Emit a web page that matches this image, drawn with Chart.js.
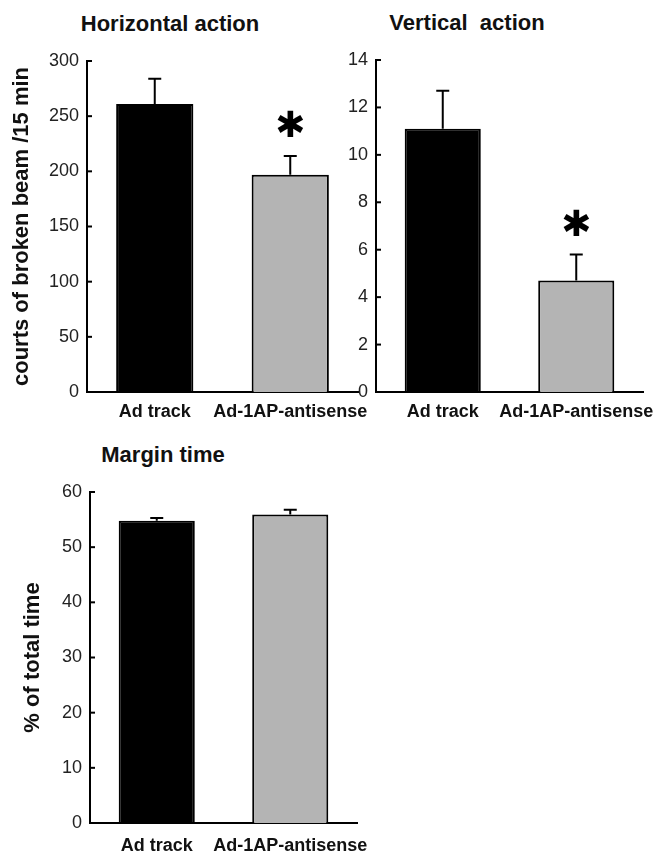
<!DOCTYPE html>
<html>
<head>
<meta charset="utf-8">
<script src="https://cdn.jsdelivr.net/npm/chart.js@4/dist/chart.umd.min.js"></script>
<style>
  body { margin: 0; background: #fff; width: 656px; height: 853px; position: relative; overflow: hidden; }
  .box { position: absolute; }
  .ttl { position: absolute; transform: translate(-50%, -50%); font: bold 22px "Liberation Sans", Arial, sans-serif; color: #111; white-space: pre; }
</style>
</head>
<body>
<div class="ttl" style="left:170px; top:24px;">Horizontal action</div>
<div class="ttl" style="left:467px; top:23px;">Vertical  action</div>
<div class="ttl" style="left:163px; top:455px;">Margin time</div>

<div class="box" style="left:0; top:0; width:375px; height:430px;"><canvas id="horiz"></canvas></div>
<div class="box" style="left:330px; top:0; width:326px; height:430px;"><canvas id="vert"></canvas></div>
<div class="box" style="left:0; top:430px; width:380px; height:423px;"><canvas id="margin"></canvas></div>

<script>
// Data
var groups = ['Ad track', 'Ad-1AP-antisense'];
var barColors = ['#000000', '#b4b4b4'];

var horizValues = [261, 197];
var horizErrors = [23, 17];
var horizSig = [false, true];

var vertValues = [11.1, 4.7];
var vertErrors = [1.6, 1.1];
var vertSig = [false, true];

var marginValues = [54.8, 55.9];
var marginErrors = [0.5, 0.9];
var marginSig = [false, false];

var fontFamily = '"Liberation Sans", Arial, sans-serif';

// Error bars, asterisks and inward y tick marks
var errorBars = {
    id: 'errorBars',
    afterDatasetsDraw: function(chart, args, opts) {
        var ctx = chart.ctx;
        var yScale = chart.scales.y;
        var meta = chart.getDatasetMeta(0);
        var ds = chart.data.datasets[0];
        ctx.save();
        ctx.strokeStyle = '#000';
        ctx.lineWidth = 2;

        // tick marks pointing into the plot
        yScale.ticks.forEach(function(t) {
            var py = yScale.getPixelForValue(t.value);
            ctx.beginPath();
            ctx.moveTo(chart.chartArea.left, py);
            ctx.lineTo(chart.chartArea.left + 5, py);
            ctx.stroke();
        });

        meta.data.forEach(function(bar, i) {
            var v = ds.data[i];
            var top = yScale.getPixelForValue(v + opts.errors[i]);
            var base = yScale.getPixelForValue(v);
            ctx.beginPath();
            ctx.moveTo(bar.x, base);
            ctx.lineTo(bar.x, top);
            ctx.moveTo(bar.x - 6.5, top);
            ctx.lineTo(bar.x + 6.5, top);
            ctx.stroke();
            if (opts.sig[i]) {
                ctx.fillStyle = '#000';
                ctx.font = '36px "DejaVu Sans"';
                ctx.textAlign = 'center';
                ctx.textBaseline = 'middle';
                ctx.fillText('\u2731', bar.x, top - 28);
            }
        });
        ctx.restore();
    }
};

function makeChart(id, values, errors, sig, max, step, yTitle, o) {
    var ctx = document.getElementById(id);
    return new Chart(ctx, {
        type: 'bar',
        data: {
            labels: groups,
            datasets: [{
                data: values,
                backgroundColor: barColors,
                borderColor: '#000',
                borderWidth: 2,
                borderSkipped: 'bottom',
                barPercentage: 0.57,
                categoryPercentage: 1
            }]
        },
        options: {
            responsive: true,
            maintainAspectRatio: false,
            animation: false,
            layout: { padding: { left: 0, top: o.top, right: o.right, bottom: 0 } },
            plugins: {
                legend: { display: false },
                tooltip: { enabled: false },
                errorBars: { errors: errors, sig: sig }
            },
            scales: {
                x: {
                    grid: { display: false },
                    border: { display: true, color: '#000', width: 2 },
                    ticks: {
                        color: '#111', padding: o.xpad, maxRotation: 0, minRotation: 0, autoSkip: false,
                        font: { family: fontFamily, size: 18, weight: 'bold' }
                    },
                    afterFit: function(s) {
                        s.height = o.xh;
                        s.paddingLeft = 0;
                        s.paddingRight = 0;
                    }
                },
                y: {
                    min: 0,
                    max: max,
                    ticks: { stepSize: step, color: '#222', padding: 8, font: { family: fontFamily, size: 18 } },
                    grid: { display: false, drawTicks: false },
                    border: { display: true, color: '#000', width: 2 },
                    title: {
                        display: !!yTitle,
                        text: yTitle,
                        color: '#111',
                        padding: { top: o.tpad, bottom: 0 },
                        font: { family: fontFamily, size: 22, weight: 'bold' }
                    },
                    afterFit: function(s) { s.width = o.yw; }
                }
            }
        },
        plugins: [errorBars]
    });
}

makeChart('horiz', horizValues, horizErrors, horizSig, 300, 50, 'courts of broken beam /15 min',
    { top: 61, right: 17, yw: 87, xh: 38, xpad: 1, tpad: 9 });
makeChart('vert', vertValues, vertErrors, vertSig, 14, 2, '',
    { top: 60, right: 13, yw: 46, xh: 38, xpad: 1, tpad: 0 });
makeChart('margin', marginValues, marginErrors, marginSig, 60, 10, '% of total time',
    { top: 62, right: 23, yw: 90, xh: 30, xpad: 4, tpad: 20 });
</script>
</body>
</html>
